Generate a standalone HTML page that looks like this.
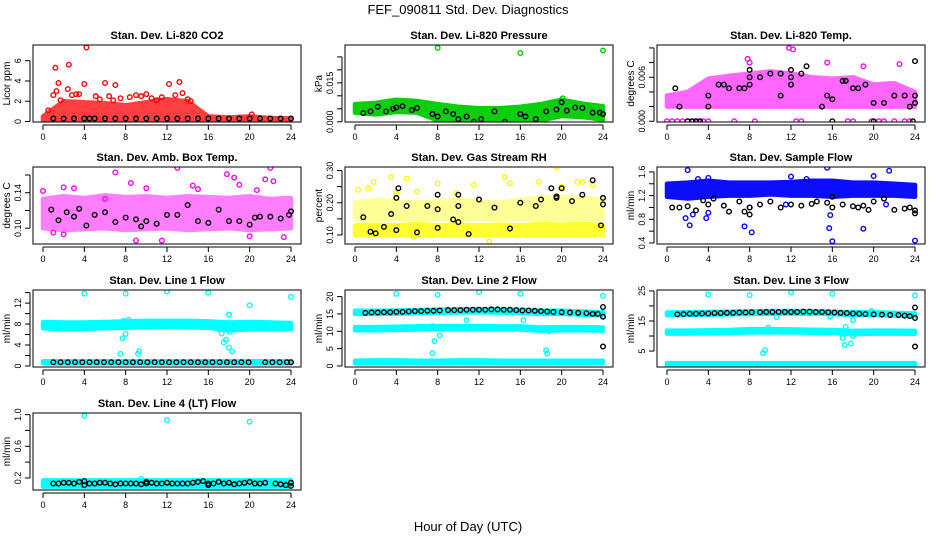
<!DOCTYPE html>
<html><head><meta charset="utf-8"><style>
html,body{margin:0;padding:0;background:#fff;}
svg{display:block;font-family:"Liberation Sans",Arial,sans-serif;}
</style></head><body>
<svg id="chart" width="936" height="540" viewBox="0 0 936 540" xmlns="http://www.w3.org/2000/svg">
<text x="468" y="14" text-anchor="middle" font-size="13">FEF_090811  Std. Dev. Diagnostics</text>
<text x="468" y="531" text-anchor="middle" font-size="13">Hour of Day (UTC)</text>
</svg>
<script>
// ---- data (hourly band envelopes, outlier points, black points) ----
const bandHours = [0,2,4,6,8,10,12,14,16,18,20,22,24];
const xTicks = [0,4,8,12,16,20,24];

// P1 CO2
const co2BandLo = [0.1,0.1,0.1,0.1,0.1,0.1,0.1,0.1,0.1,0.1,0.1,0.1,0.1];
const co2BandHi = [0.5,2.0,1.9,1.8,1.6,1.9,2.2,2.0,0.5,0.4,0.5,0.35,0.3];
const co2OutH = [0.5,1.0,1.2,1.5,1.7,2.5,2.4,4.2,4.0,6.0,7.0,6.4,9.0,10.0,12.2,13.2,13.5,11.5,20.2,3.2,5.1,8.4,1.3,2.8,3.5,5.5,6.8,7.5,9.5,10.5,11,12.8,14,14.3];
const co2OutV = [1.1,2.6,5.3,3.8,2.1,5.6,3.2,7.3,3.7,3.8,3.6,2.5,2.6,2.7,3.7,3.9,2.8,2.4,0.7,2.7,2.5,2.4,3.0,2.6,2.7,2.2,2.1,2.3,2.5,2.3,2.1,2.6,2.2,2.0];
const co2BlkH = [1,2,3,4,4.5,5,6,7,8,9,10,11,12,13,14,15,16,17,18,19,20,21,22,23,24];
const co2BlkV = [0.3,0.3,0.3,0.3,0.3,0.3,0.3,0.3,0.3,0.3,0.3,0.3,0.3,0.3,0.3,0.3,0.3,0.3,0.3,0.3,0.3,0.3,0.3,0.3,0.3];

// P2 Pressure
const prBandLo = [0.0035,0.0028,0.0038,0.0035,0.0005,0.0,0.0,0.0,0.0,0.0005,0.0022,0.0018,0.0008];
const prBandHi = [0.0068,0.0073,0.0085,0.0080,0.0068,0.0058,0.0052,0.0052,0.0058,0.0068,0.0085,0.0070,0.0060];
const prOutH = [8,16,24,20.1,9.7,23.8];
const prOutV = [0.0285,0.0265,0.0275,0.009,0.0035,0.0015];
const prBlkH = [0.8,1.5,2.2,3,3.7,4,4.6,5.5,6,7.5,8,8.8,9.5,10,10.8,11.5,12.2,13.5,14.5,16,16.5,17.5,18.5,19.5,20,20.5,21.3,22,23,23.7,24];
const prBlkV = [0.0033,0.0040,0.0058,0.0040,0.0050,0.0055,0.0060,0.0045,0.0053,0.0030,0.0020,0.0040,0.0030,0.0010,0.0020,0.0000,0.0010,0.0040,0.0000,0.0030,0.0020,0.0010,0.0040,0.0047,0.0075,0.0043,0.0055,0.0053,0.0035,0.0035,0.0030];

// P3 Li-820 Temp
const ltBandLo = [0.002,0.002,0.002,0.002,0.002,0.002,0.002,0.002,0.002,0.002,0.002,0.002,0.002];
const ltBandHi = [0.0035,0.004,0.0058,0.0062,0.0065,0.0068,0.0065,0.006,0.0058,0.006,0.005,0.0052,0.004];
const ltOutH = [0,0.5,1,1.5,2,2.5,3,3.5,4,6.5,8.5,12.5,13,17.5,18,19.8,20.5,21,22,23,23.5,7.8,8,11.8,12.2,15.5,19,22.5];
const ltOutV = [0,0,0,0,0,0,0,0,0,0,0,0,0,0,0,0,0,0,0,0,0,0.0085,0.008,0.01,0.0098,0.008,0.0075,0.0078];
const ltBlkH = [0.8,1.2,2,2.4,2.8,3.2,4,4,5,5.5,6,7,7.5,8,8,8,9,10,11,12,12,12,11,13,13.5,15,15.5,16,16,17,17.3,18,18.5,19.2,20,20,21,22,23,23.5,23.8,24,24,24];
const ltBlkV = [0.0045,0.002,0,0,0,0,0.002,0.0035,0.005,0.005,0.0045,0.0045,0.0045,0.006,0.005,0.007,0.006,0.0065,0.0065,0.006,0.007,0.005,0.0035,0.0065,0.0075,0.002,0.0035,0.003,0,0.0055,0.0055,0.0045,0.0045,0.005,0.0025,0,0.0025,0.0035,0.0035,0.002,0,0.0035,0.0025,0.0082];

// P4 Amb Box Temp
const abBandLo = [0.100,0.098,0.099,0.100,0.098,0.099,0.100,0.098,0.099,0.100,0.098,0.099,0.100];
const abBandHi = [0.133,0.136,0.134,0.137,0.135,0.136,0.134,0.136,0.135,0.134,0.136,0.133,0.134];
const abOutH = [0,2,3,6,7,8.5,9,10,11.5,13,15,17.8,19,20.7,22,22.3,23.3,2,18.5,21.5,20,1,14.5];
const abOutV = [0.142,0.146,0.145,0.133,0.163,0.151,0.086,0.145,0.086,0.168,0.144,0.161,0.149,0.143,0.168,0.153,0.090,0.093,0.157,0.155,0.091,0.095,0.148];
const abBlkH = [0.8,1.5,2.3,3,3.5,4.2,5,6,7,8,9,9.5,10,11,12,13,14,15,16,17,18,19,20,20.5,21,22,23,23.8,24];
const abBlkV = [0.121,0.109,0.118,0.113,0.122,0.103,0.115,0.118,0.107,0.112,0.110,0.102,0.108,0.105,0.115,0.115,0.126,0.108,0.106,0.121,0.108,0.108,0.104,0.112,0.113,0.113,0.111,0.115,0.119];

// P5 Gas Stream RH
const rhBandLo = [0.100,0.100,0.100,0.100,0.100,0.100,0.100,0.100,0.100,0.100,0.100,0.100,0.100];
const rhBandHi = [0.130,0.132,0.130,0.134,0.130,0.132,0.130,0.132,0.130,0.134,0.132,0.135,0.130];
const rhMidLo = [0.150,0.150,0.150,0.150,0.150,0.150,0.150,0.150,0.150,0.150,0.150,0.150,0.150];
const rhMidHi = [0.200,0.210,0.205,0.200,0.205,0.210,0.205,0.200,0.210,0.215,0.220,0.215,0.210];
const rhOutH = [0.3,1.3,1.8,3.5,5,8,11.5,14.5,15,19.5,17.8,21.5,22,23,20,6,13,5.7,4,9.8];
const rhOutV = [0.24,0.245,0.265,0.28,0.275,0.26,0.255,0.28,0.26,0.31,0.265,0.265,0.265,0.255,0.25,0.235,0.08,0.095,0.23,0.23];
const rhBlkH = [0.8,1.5,2,2.8,3.5,4,4,4.2,5,6,7,8,8,8,9.5,10,10,10,11,12,13.5,15,16,17.5,18,19,19.5,19.5,20,21,22,23,23.8,24,24];
const rhBlkV = [0.155,0.11,0.105,0.125,0.165,0.115,0.215,0.245,0.19,0.108,0.19,0.225,0.122,0.18,0.148,0.14,0.225,0.19,0.103,0.21,0.185,0.12,0.2,0.19,0.21,0.245,0.215,0.22,0.245,0.205,0.225,0.27,0.13,0.215,0.195];

// P6 Sample Flow
const sfBandLo = [1.18,1.15,1.18,1.2,1.2,1.22,1.2,1.2,1.18,1.2,1.2,1.2,1.18];
const sfBandHi = [1.40,1.42,1.45,1.42,1.42,1.42,1.43,1.45,1.45,1.42,1.42,1.40,1.38];
const sfOutH = [2,1.8,2.2,2.5,3.8,4,4,7.5,8,8.2,12,15.5,15.8,15.7,16,19,20,21.5,24,11.5,21.2,3,13.5];
const sfOutV = [1.63,0.82,0.70,0.88,0.82,0.91,1.50,0.68,1.00,0.58,1.52,1.67,0.87,0.65,0.43,0.64,1.53,1.62,0.44,1.05,1.05,1.48,1.48];
const sfBlkH = [0.5,1.2,2,2.8,3.5,4,4.5,5.5,6,7,7.5,8,8,9,10,11,12,13,14,14.5,15.5,16,16,17,18,18.5,19,19.5,20,21,22,23,23.5,24,24];
const sfBlkV = [1.0,1.0,1.02,0.95,1.12,1.05,1.15,1.03,0.93,1.1,0.93,0.88,1.0,1.05,1.1,1.0,1.05,1.03,1.06,1.1,1.08,1.0,1.18,1.05,1.02,1.0,1.03,0.96,1.1,1.15,0.96,0.98,1.0,0.95,0.9];

// P7 Line 1 Flow
const l1BandLo = [7.2,7.0,7.1,7.2,7.3,7.4,7.5,7.4,7.3,6.8,7.0,7.0,7.0];
const l1BandHi = [8.4,8.3,8.3,8.4,8.5,8.6,8.6,8.6,8.5,8.3,8.4,8.3,8.2];
const l1ZeroLo = [0.5,0.5,0.5,0.5,0.5,0.5,0.5,0.5,0.5,0.5,0.5,0.5,0.5];
const l1ZeroHi = [0.9,0.9,0.9,0.9,0.9,0.9,0.9,0.9,0.9,0.9,0.9,0.9,0.9];
const l1OutH = [4,8,12,16,20,24,7.7,8,7.5,9.2,9.3,17.3,17,18,17.5,17.7,18,18.3,18.1,7.8,8.3];
const l1OutV = [13.8,13.8,14.2,14,11.6,13.2,5.3,6.1,2.3,2.3,2.8,6.2,7,9.8,4.5,5,3.5,2.8,6.5,8.6,8.8];
const l1BlkH = [1,1.7,2.4,3.1,3.8,4.5,5.2,5.9,6.6,7.3,8,8.7,9.4,10.1,10.8,11.5,12.2,12.9,13.6,14.3,15,15.7,16.4,17.1,17.8,18.5,19.2,19.9,21.5,22.2,22.9,23.6,24];
const l1BlkV = [0.7,0.7,0.7,0.7,0.7,0.7,0.7,0.7,0.7,0.7,0.7,0.7,0.7,0.7,0.7,0.7,0.7,0.7,0.7,0.7,0.7,0.7,0.7,0.7,0.7,0.7,0.7,0.7,0.7,0.7,0.7,0.7,0.7];

// P8 Line 2 Flow
const l2BandLo = [15.0,15.0,15.1,15.2,15.3,15.4,15.5,15.4,15.3,15.0,15.0,14.8,14.6];
const l2BandHi = [15.9,15.9,16.0,16.1,16.2,16.3,16.4,16.3,16.2,15.9,15.9,15.7,15.5];
const l2MidLo = [10.3,10.3,10.4,10.5,10.6,10.6,10.6,10.5,10.5,10.2,10.3,10.3,10.2];
const l2MidHi = [11.2,11.2,11.3,11.4,11.5,11.5,11.5,11.4,11.4,11.1,11.2,11.2,11.1];
const l2LowLo = [0.8,0.8,0.8,0.8,0.8,0.8,0.8,0.8,0.8,0.8,0.8,0.8,0.8];
const l2LowHi = [1.5,1.6,1.6,1.5,1.5,1.6,1.6,1.5,1.5,1.5,1.5,1.5,1.5];
const l2OutH = [4,8,12,16,24,7.5,7.7,8.2,7.5,8,10.8,16.3,18.5,18.6,18.8,24];
const l2OutV = [20.8,20.5,21.3,20.8,20.2,3.7,7.2,8.8,11.5,11.3,13.2,13.2,4.5,3.6,10,15];
const l2BlkH = [1,1.6,2.2,2.8,3.4,4,4.6,5.2,5.8,6.4,7,7.6,8.2,9,9.6,10.2,10.8,11.4,12,12.6,13.2,13.8,14.4,15,15.6,16.2,16.8,17.4,18,18.6,19.2,20,20.8,21.6,22.4,23,23.5,24,24,24];
const l2BlkV = [15.3,15.4,15.4,15.5,15.5,15.6,15.6,15.7,15.8,15.8,15.9,15.9,16.0,16.1,16.1,16.1,16.2,16.2,16.2,16.2,16.3,16.3,16.2,16.2,16.1,16.0,16.0,15.9,15.8,15.7,15.6,15.5,15.4,15.3,15.2,15.0,15.0,17.0,5.6,14.2];

// P9 Line 3 Flow
const l3BandLo = [16.9,17.0,17.1,17.2,17.3,17.4,17.5,17.4,17.3,17.0,17.0,16.8,16.6];
const l3BandHi = [17.8,17.9,18.0,18.1,18.2,18.3,18.3,18.2,18.1,17.9,17.9,17.7,17.5];
const l3MidLo = [10.8,10.8,10.9,11.0,11.2,11.2,11.2,11.1,11.0,10.6,10.8,10.8,10.7];
const l3MidHi = [11.8,11.8,11.9,12.0,12.3,12.3,12.2,12.1,12.0,11.7,11.8,11.8,11.7];
const l3LowLo = [0.3,0.3,0.3,0.3,0.3,0.3,0.3,0.3,0.3,0.3,0.3,0.3,0.3];
const l3LowHi = [1.0,1.0,1.0,1.0,1.0,1.0,1.0,1.0,1.0,1.0,1.0,1.0,1.0];
const l3OutH = [4,8,12,16,24,9.3,9.5,9.8,10.6,15.8,17,17.2,17.8,18,18,17.3,19.8];
const l3OutV = [23.8,23.6,24.5,24,23.5,4.3,5.3,12.8,16.3,16.5,9.3,7,7.5,10,15.3,13,18.3];
const l3BlkH = [1,1.6,2.2,2.8,3.4,4,4.6,5.2,5.8,6.4,7,7.6,8.2,9,9.6,10.2,10.8,11.4,12,12.6,13.2,13.8,14.4,15,15.6,16.2,16.8,17.4,18,18.6,19.2,20,20.8,21.6,22.4,23,23.5,24,24,24];
const l3BlkV = [17.2,17.3,17.4,17.4,17.5,17.5,17.6,17.6,17.7,17.7,17.8,17.8,17.9,17.9,18.0,18.0,18.0,18.0,18.0,18.0,18.1,18.1,18.0,18.0,17.9,17.8,17.7,17.6,17.5,17.4,17.3,17.2,17.1,17.0,17.0,16.8,16.6,19.5,6.5,16.0];

// P10 Line 4 Flow
const l4BandLo = [0.09,0.09,0.09,0.09,0.09,0.09,0.09,0.09,0.09,0.09,0.09,0.09,0.09];
const l4BandHi = [0.17,0.17,0.17,0.17,0.17,0.17,0.17,0.17,0.17,0.17,0.17,0.17,0.17];
const l4OutH = [4,12,20,9.5,13.5];
const l4OutV = [0.985,0.93,0.91,0.19,0.16];
const l4BlkH = [1,1.5,2,2.5,3,3.5,4,4,4.5,5,5.5,6,6.5,7,7.5,8,8.5,9,9.5,10,10,10.5,11,11.5,12,12.5,13,13.5,14,14.5,15,15.5,16,16,16.5,17,17.5,18,18.5,19,19.5,20,20.5,21,21.5,22.5,23,23.5,24,24];
const l4BlkV = [0.13,0.13,0.14,0.14,0.13,0.15,0.16,0.11,0.13,0.13,0.14,0.14,0.13,0.12,0.13,0.13,0.13,0.13,0.12,0.13,0.15,0.14,0.13,0.13,0.14,0.13,0.13,0.13,0.13,0.14,0.15,0.16,0.13,0.11,0.13,0.15,0.13,0.14,0.12,0.13,0.14,0.15,0.13,0.13,0.14,0.13,0.12,0.11,0.14,0.10];

// ---- panel meta ----
const cols = [33, 345, 657];
const rows = [45, 167, 290, 413];
const W = 268, H = 77;
const panels = [
 {title:"Stan. Dev. Li-820 CO2", ylab:"Licor ppm", col:"#ff0000", c:0, r:0, ylim:[-0.05,7.55], ticks:[0,2,4,6], labs:["0","2","4","6"],
  bands:[[co2BandLo,co2BandHi,0.75]], out:[co2OutH,co2OutV], blk:[co2BlkH,co2BlkV]},
 {title:"Stan. Dev. Li-820 Pressure", ylab:"kPa", col:"#00cc00", c:1, r:0, ylim:[-0.0001,0.0296], ticks:[0,0.005,0.01,0.015,0.02,0.025], labs:["0.000","","","0.015","",""],
  bands:[[prBandLo,prBandHi,0.95]], out:[prOutH,prOutV], blk:[prBlkH,prBlkV]},
 {title:"Stan. Dev. Li-820 Temp.", ylab:"degrees C", col:"#ff00ff", c:2, r:0, ylim:[-0.0001,0.0104], ticks:[0,0.002,0.004,0.006,0.008,0.01], labs:["0.000","","","0.006","",""],
  bands:[[ltBandLo,ltBandHi,0.6]], out:[ltOutH,ltOutV], blk:[ltBlkH,ltBlkV]},
 {title:"Stan. Dev. Amb. Box Temp.", ylab:"degrees C", col:"#ff00ff", c:0, r:1, ylim:[0.0822,0.169], ticks:[0.10,0.12,0.14,0.16], labs:["0.10","","0.14",""],
  bands:[[abBandLo,abBandHi,0.5]], out:[abOutH,abOutV], blk:[abBlkH,abBlkV]},
 {title:"Stan. Dev. Gas Stream RH", ylab:"percent", col:"#ffff00", c:1, r:1, ylim:[0.072,0.311], ticks:[0.10,0.15,0.20,0.25,0.30], labs:["0.10","","0.20","","0.30"],
  bands:[[rhBandLo,rhBandHi,0.8],[rhMidLo,rhMidHi,0.4]], out:[rhOutH,rhOutV], blk:[rhBlkH,rhBlkV]},
 {title:"Stan. Dev. Sample Flow", ylab:"ml/min", col:"#0000ff", c:2, r:1, ylim:[0.383,1.683], ticks:[0.4,0.6,0.8,1.0,1.2,1.4,1.6], labs:["0.4","","0.8","","1.2","","1.6"],
  bands:[[sfBandLo,sfBandHi,0.95]], out:[sfOutH,sfOutV], blk:[sfBlkH,sfBlkV]},
 {title:"Stan. Dev. Line 1 Flow", ylab:"ml/min", col:"#00ffff", c:0, r:2, ylim:[-0.2,14.5], ticks:[0,2,4,6,8,10,12,14], labs:["0","","4","","8","","12",""],
  bands:[[l1BandLo,l1BandHi,1],[l1ZeroLo,l1ZeroHi,1]], out:[l1OutH,l1OutV], blk:[l1BlkH,l1BlkV]},
 {title:"Stan. Dev. Line 2 Flow", ylab:"ml/min", col:"#00ffff", c:1, r:2, ylim:[-0.3,21.9], ticks:[0,5,10,15,20], labs:["0","5","10","15","20"],
  bands:[[l2BandLo,l2BandHi,1],[l2MidLo,l2MidHi,1],[l2LowLo,l2LowHi,1]], out:[l2OutH,l2OutV], blk:[l2BlkH,l2BlkV]},
 {title:"Stan. Dev. Line 3 Flow", ylab:"ml/min", col:"#00ffff", c:2, r:2, ylim:[-0.3,25.3], ticks:[5,10,15,20,25], labs:["5","","15","","25"],
  bands:[[l3BandLo,l3BandHi,1],[l3MidLo,l3MidHi,1],[l3LowLo,l3LowHi,1]], out:[l3OutH,l3OutV], blk:[l3BlkH,l3BlkV]},
 {title:"Stan. Dev. Line 4 (LT) Flow", ylab:"ml/min", col:"#00ffff", c:0, r:3, ylim:[0.048,1.02], ticks:[0.2,0.4,0.6,0.8,1.0], labs:["0.2","","0.6","","1.0"],
  bands:[[l4BandLo,l4BandHi,1]], out:[l4OutH,l4OutV], blk:[l4BlkH,l4BlkV]}
];

const NS = "http://www.w3.org/2000/svg";
const svg = document.getElementById('chart');
function mk(tag, attrs, parent){const e=document.createElementNS(NS,tag);for(const k in attrs)e.setAttribute(k,attrs[k]);(parent||svg).appendChild(e);return e;}

panels.forEach((p, idx) => {
  const L = cols[p.c], T = rows[p.r];
  const xs = h => L + 10 + h * (W - 20) / 24;
  const ys = v => T + H - (v - p.ylim[0]) / (p.ylim[1] - p.ylim[0]) * H;
  const g = mk('g', {});
  
  
  const clip = mk('clipPath', {id:'clip' + idx}, g);
  mk('rect', {x:L, y:T, width:W, height:H}, clip);
  const plot = mk('g', {'clip-path':'url(#clip' + idx + ')'}, g);
  
  
  p.bands.forEach(b => {
    const lo = b[0], hi = b[1];
    let pts = [];
    bandHours.forEach((h, i) => pts.push(xs(h) + ',' + ys(hi[i])));
    for (let i = bandHours.length - 1; i >= 0; i--) pts.push(xs(bandHours[i]) + ',' + ys(lo[i]));
    const poly = mk('polygon', {points:pts.join(' '), fill:p.col, stroke:p.col, 'stroke-width':4.5, 'stroke-linejoin':'round', opacity:b[2]}, plot);
    
    
  });
  p.out[0].forEach((h, i) => {
    const c = mk('circle', {cx:xs(h), cy:ys(p.out[1][i]), r:2.3, fill:'none', stroke:p.col, 'stroke-width':1.4}, plot);
    
    
  });
  p.blk[0].forEach((h, i) => {
    const c = mk('circle', {cx:xs(h), cy:ys(p.blk[1][i]), r:2.3, fill:'none', stroke:'#000', 'stroke-width':1.4}, plot);
    
    
  });
  const box = mk('rect', {x:L, y:T, width:W, height:H, fill:'none', stroke:'#000', 'stroke-width':1}, g);
  
  
  const t = mk('text', {x:L + W / 2, y:T - 6, 'text-anchor':'middle', 'font-size':11, 'font-weight':'bold'}, g);
  t.textContent = p.title;
  
  
  const xa = mk('g', {}, g);
  
  
  const yb = T + H + 3;
  mk('line', {x1:xs(0), x2:xs(24), y1:yb, y2:yb, stroke:'#000'}, xa);
  xTicks.forEach(h => {
    mk('line', {x1:xs(h), x2:xs(h), y1:yb, y2:yb + 5, stroke:'#000'}, xa);
    const tl = mk('text', {x:xs(h), y:yb + 15, 'text-anchor':'middle', 'font-size':9}, xa);
    tl.textContent = h;
    
    
  });
  const ya = mk('g', {}, g);
  
  
  const xl = L - 3;
  mk('line', {x1:xl, x2:xl, y1:ys(p.ticks[0]), y2:ys(p.ticks[p.ticks.length - 1]), stroke:'#000'}, ya);
  p.ticks.forEach((v, i) => {
    mk('line', {x1:xl - 5, x2:xl, y1:ys(v), y2:ys(v), stroke:'#000'}, ya);
    if (p.labs[i]) {
      const tl = mk('text', {x:xl - 9, y:ys(v), 'text-anchor':'middle', 'font-size':9, transform:'rotate(-90 ' + (xl - 9) + ' ' + ys(v) + ')'}, ya);
      tl.textContent = p.labs[i];
      
      
    }
  });
  const yl = mk('text', {x:L - 23, y:T + H / 2, 'text-anchor':'middle', 'font-size':10, transform:'rotate(-90 ' + (L - 23) + ' ' + (T + H / 2) + ')'}, ya);
  yl.textContent = p.ylab;
  
  
});
</script>
</body></html>
